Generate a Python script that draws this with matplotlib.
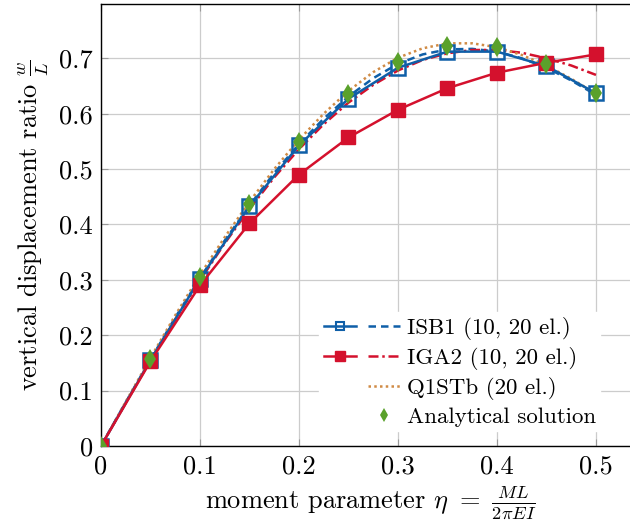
"""
Vertical displacement ratio vs moment parameter (pgfplots-style recreation)
"""

import numpy as np
import matplotlib
matplotlib.use("Agg")
import matplotlib.pyplot as plt
from matplotlib.lines import Line2D
from matplotlib.legend_handler import HandlerTuple

# coarse meshes (10 el.)
eta_coarse = [0, 0.05, 0.10, 0.15, 0.20, 0.25, 0.30, 0.35, 0.40, 0.45, 0.50]
isb1_10 = [0, 0.155, 0.302, 0.433, 0.543, 0.627, 0.683, 0.712, 0.712, 0.686, 0.637]
iga2_10 = [0, 0.153, 0.290, 0.402, 0.490, 0.557, 0.607, 0.646, 0.674, 0.692, 0.707]

# fine meshes (20 el.)
eta_fine = [0, 0.025, 0.05, 0.075, 0.10, 0.125, 0.15, 0.175, 0.20, 0.225, 0.25,
            0.275, 0.30, 0.325, 0.35, 0.375, 0.40, 0.425, 0.45, 0.475, 0.50]
isb1_20 = [0, 0.079, 0.156, 0.232, 0.303, 0.371, 0.434, 0.493, 0.545, 0.591, 0.631,
           0.664, 0.690, 0.707, 0.716, 0.717, 0.712, 0.700, 0.683, 0.660, 0.634]
iga2_20 = [0, 0.078, 0.155, 0.229, 0.299, 0.366, 0.428, 0.485, 0.536, 0.581, 0.620,
           0.652, 0.678, 0.697, 0.709, 0.715, 0.715, 0.710, 0.700, 0.687, 0.670]
q1stb_20 = [0, 0.080, 0.159, 0.236, 0.309, 0.377, 0.441, 0.500, 0.553, 0.600, 0.641,
            0.675, 0.701, 0.718, 0.727, 0.727, 0.720, 0.706, 0.687, 0.663, 0.636]

# analytical
analytical = [0, 0.157, 0.305, 0.437, 0.548, 0.635, 0.694, 0.723, 0.720, 0.690, 0.637]

xticks = [0, 0.1, 0.2, 0.3, 0.4, 0.5]
yticks = [0, 0.1, 0.2, 0.3, 0.4, 0.5, 0.6, 0.7]

BLUE = "#0f5fa8"
RED = "#d4112d"
ORANGE = "#d08b45"
GREEN = "#5aa12b"

plt.rcParams["font.family"] = "serif"
plt.rcParams["font.serif"] = ["cmr10", "DejaVu Serif"]
plt.rcParams["mathtext.fontset"] = "cm"
plt.rcParams["axes.formatter.use_mathtext"] = True
plt.rcParams["font.size"] = 19


def main():
    fig = plt.figure(figsize=(6.3, 5.31), dpi=100)
    ax = fig.add_axes([101 / 630, 85 / 531, 540 / 630, 442 / 531])

    ax.plot(eta_fine, isb1_20, color=BLUE, lw=1.8, ls=(0, (3, 2)), zorder=3)
    ax.plot(eta_fine, iga2_20, color=RED, lw=1.8, ls=(0, (4, 1.5, 1, 1.5)), zorder=3)
    ax.plot(eta_fine, q1stb_20, color=ORANGE, lw=1.8, ls=(0, (1, 1.3)), zorder=3)
    ax.plot(eta_coarse, isb1_10, color=BLUE, lw=1.8, marker="s", ms=9.5,
            mfc="none", mew=1.8, zorder=4)
    ax.plot(eta_coarse, iga2_10, color=RED, lw=1.8, marker="s", ms=10,
            mfc=RED, mec=RED, zorder=4)
    ax.plot(eta_coarse, analytical, ls="none", marker="d", ms=10, mew=0,
            color=GREEN, zorder=5)

    ax.set_xlim(0, 0.5455)
    ax.set_ylim(0, 0.798)
    ax.set_xticks(xticks)
    ax.set_yticks(yticks)
    ax.set_xticklabels(["0", "0.1", "0.2", "0.3", "0.4", "0.5"])
    ax.set_yticklabels(["0", "0.1", "0.2", "0.3", "0.4", "0.5", "0.6", "0.7"])
    ax.tick_params(direction="in", length=5, width=0.8, color="#999999",
                   top=True, right=True, pad=6)
    ax.grid(True, color="#cccccc", lw=0.9)
    ax.set_axisbelow(True)
    for sp in ax.spines.values():
        sp.set_linewidth(1.0)

    ax.set_xlabel(r"moment parameter $\eta\ =\ \frac{ML}{2\pi EI}$", labelpad=4)
    ax.set_ylabel(r"vertical displacement ratio $\frac{w}{L}$", labelpad=6)

    # legend: two handle slots per entry, like pgfplots
    blank = Line2D([], [], ls="none")
    h_isb_c = Line2D([], [], color=BLUE, lw=1.8, marker="s", ms=6, mfc="none", mew=1.5)
    h_isb_f = Line2D([], [], color=BLUE, lw=1.8, ls=(0, (3, 2)))
    h_iga_c = Line2D([], [], color=RED, lw=1.8, marker="s", ms=7, mfc=RED)
    h_iga_f = Line2D([], [], color=RED, lw=1.8, ls=(0, (4, 1.5, 1, 1.5)))
    h_q1 = Line2D([], [], color=ORANGE, lw=1.8, ls=(0, (1, 1.3)))
    h_an = Line2D([], [], ls="none", marker="d", ms=7, mew=0, color=GREEN)
    leg = ax.legend([(h_isb_c, h_isb_f), (h_iga_c, h_iga_f), (blank, h_q1), (blank, h_an)],
                    ["ISB1 (10, 20 el.)", "IGA2 (10, 20 el.)", "Q1STb (20 el.)",
                     "Analytical solution"],
                    handler_map={tuple: HandlerTuple(ndivide=2, pad=0.5)},
                    loc="upper left", bbox_to_anchor=(308 / 630, 1 - 301 / 531),
                    bbox_transform=fig.transFigure, frameon=True, fancybox=False,
                    framealpha=1, edgecolor="white", borderpad=0.2,
                    handlelength=3.3, handletextpad=0.3, labelspacing=0.3,
                    fontsize=16.5)
    leg.set_zorder(10)

    fig.savefig("out.png", dpi=100)


if __name__ == "__main__":
    main()
